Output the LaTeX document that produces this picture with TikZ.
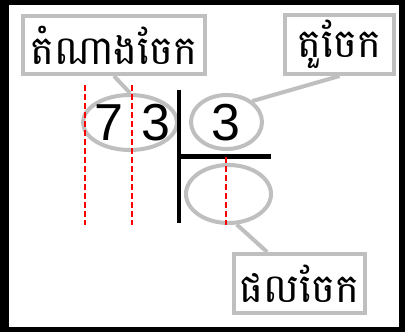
\documentclass[tikz,border=0pt]{standalone}
\usepackage{fontspec}
\newfontfamily\khmerfont[Script=Khmer]{Battambang}
\newfontfamily\digitfont{Liberation Sans}
\usetikzlibrary{shapes.geometric,calc}
\definecolor{lgray}{HTML}{BFBFBF}
\tikzset{
  labelbox/.style={draw=lgray, line width=4pt, fill=white, inner sep=0pt, font=\khmerfont\fontsize{40}{44}\selectfont},
  ring/.style={draw=lgray, line width=4pt, ellipse, inner sep=0pt},
  digit/.style={inner sep=0pt, font=\digitfont\fontsize{52}{56}\selectfont},
  pointer/.style={draw=lgray, line width=4pt},
  guide/.style={draw=red, line width=2.2pt, dash pattern=on 6pt off 3pt},
  bar/.style={draw=black, line width=4.5pt}
}
\begin{document}
\begin{tikzpicture}[x=1pt,y=-1pt]
\useasboundingbox (0,0) rectangle (405,332);
\fill[black] (0,0) rectangle (405,332);
\fill[white] (9,5) rectangle (399,327);
% labels
\node[labelbox, minimum width=182pt, minimum height=58pt] (b1) at (114,45) {តំណាងចែក};
\node[labelbox, minimum width=109pt, minimum height=59pt] (b2) at (339.5,44.5) {តួចែក};
\node[labelbox, minimum width=131pt, minimum height=59pt] (b3) at (299.5,283.5) {ផលចែក};
% rings
\node[ring, minimum width=94pt, minimum height=55pt] (e1) at (130,122.5) {};
\node[ring, minimum width=71pt, minimum height=54pt] (e2) at (226.5,122) {};
\node[ring, minimum width=85pt, minimum height=58pt] (e3) at (228.5,194) {};
% digits
\node[digit] (d1) at (109,123) {7};
\node[digit] (d2) at (155.5,123) {3};
\node[digit] (d3) at (225.5,123) {3};
% division bars
\coordinate (vt) at (179,90);
\coordinate (vb) at (179,223);
\coordinate (hl) at (177,156.5);
\coordinate (hr) at (271,156.5);
\draw[bar] (vt) -- (vb);
\draw[bar] (hl) -- (hr);
% pointers
\draw[pointer] (b1.south) -- (e1.north);
\draw[pointer] (b2.south) -- (e2.39);
\draw[pointer] (e3.-75) -- ($(b3.north west)!0.26!(b3.north east)$);
% guides
\draw[guide] (85,85) -- (85,225);
\draw[guide] (132,85) -- (132,225);
\draw[guide] (226,157) -- (226,225);
\end{tikzpicture}
\end{document}
